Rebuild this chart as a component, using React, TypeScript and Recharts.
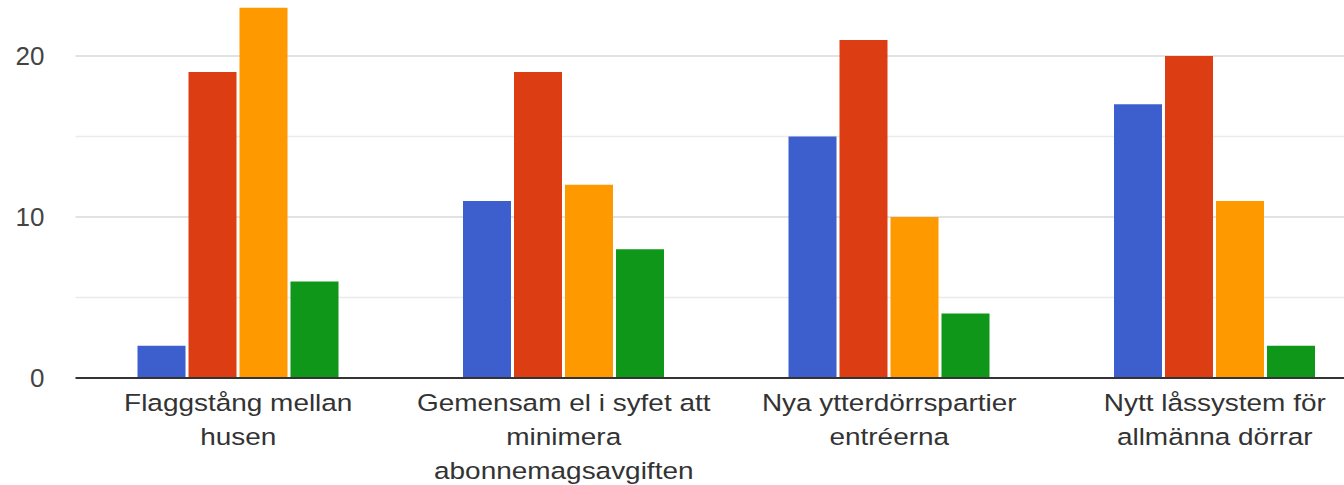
import React from "react";
import { BarChart, Bar, XAxis, YAxis, CartesianGrid } from "recharts";

const categories = [
  "Flaggstång mellan husen",
  "Gemensam el i syfet att minimera abonnemagsavgiften",
  "Nya ytterdörrspartier entréerna",
  "Nytt låssystem för allmänna dörrar",
];
const categoryLines = [
  ["Flaggstång mellan", "husen"],
  ["Gemensam el i syfet att", "minimera", "abonnemagsavgiften"],
  ["Nya ytterdörrspartier", "entréerna"],
  ["Nytt låssystem för", "allmänna dörrar"],
];
const seriesBlue = [2, 11, 15, 17];
const seriesRed = [19, 19, 21, 20];
const seriesOrange = [23, 12, 10, 11];
const seriesGreen = [6, 8, 4, 2];
const yTicks = [0, 10, 20];
const majorGrid = [10, 20];
const minorGrid = [5, 15];
const yDomain = [0, 25];

const data = categories.map((c, i) => ({
  name: c,
  s1: seriesBlue[i],
  s2: seriesRed[i],
  s3: seriesOrange[i],
  s4: seriesGreen[i],
}));

const FONT = "Arial, 'Liberation Sans', sans-serif";

const XTick = (props: any) => {
  const { x, y, payload } = props;
  const idx = categories.indexOf(payload.value);
  const lines = idx >= 0 ? categoryLines[idx] : [String(payload.value)];
  return (
    <g transform={`translate(${x},${y})`}>
      <g transform="scale(1.2,1)">
        <text textAnchor="middle" fill="#333" fontSize={23.3} fontFamily={FONT}>
          {lines.map((l, i) => (
            <tspan key={i} x={0} y={33 + i * 34}>
              {l}
            </tspan>
          ))}
        </text>
      </g>
    </g>
  );
};

const YTick = (props: any) => {
  const { x, y, payload } = props;
  return (
    <text x={x - 31} y={y} dy="0.36em" textAnchor="end" fill="#444" fontSize={26} fontFamily={FONT}>
      {payload.value}
    </text>
  );
};

export default function App() {
  return (
    <div
      style={{
        position: "absolute",
        top: 0,
        left: 0,
        width: 1344,
        height: 485,
        overflow: "hidden",
        background: "#fff",
      }}
    >
      <div style={{ position: "relative", top: -40 }}>
        <BarChart
          width={1400}
          height={560}
          data={data}
          margin={{ top: 15.5, right: 22.5, bottom: 0, left: 0 }}
          barSize={48}
          barGap={3}
        >
          <CartesianGrid vertical={false} horizontalValues={minorGrid} stroke="#ebebeb" strokeWidth={1.5} />
          <CartesianGrid vertical={false} horizontalValues={majorGrid} stroke="#d9d9d9" strokeWidth={1.5} />
          <XAxis
            dataKey="name"
            height={142}
            interval={0}
            tickLine={false}
            tickSize={0}
            tickMargin={0}
            axisLine={{ stroke: "#333", strokeWidth: 2 }}
            tick={<XTick />}
          />
          <YAxis
            width={75.5}
            domain={yDomain}
            ticks={yTicks}
            allowDataOverflow
            axisLine={false}
            tickLine={false}
            tickSize={0}
            tickMargin={0}
            tick={<YTick />}
          />
          <Bar dataKey="s1" fill="#3d5fce" isAnimationActive={false} />
          <Bar dataKey="s2" fill="#dc3d12" isAnimationActive={false} />
          <Bar dataKey="s3" fill="#ff9900" isAnimationActive={false} />
          <Bar dataKey="s4" fill="#0f9719" isAnimationActive={false} />
        </BarChart>
      </div>
    </div>
  );
}
